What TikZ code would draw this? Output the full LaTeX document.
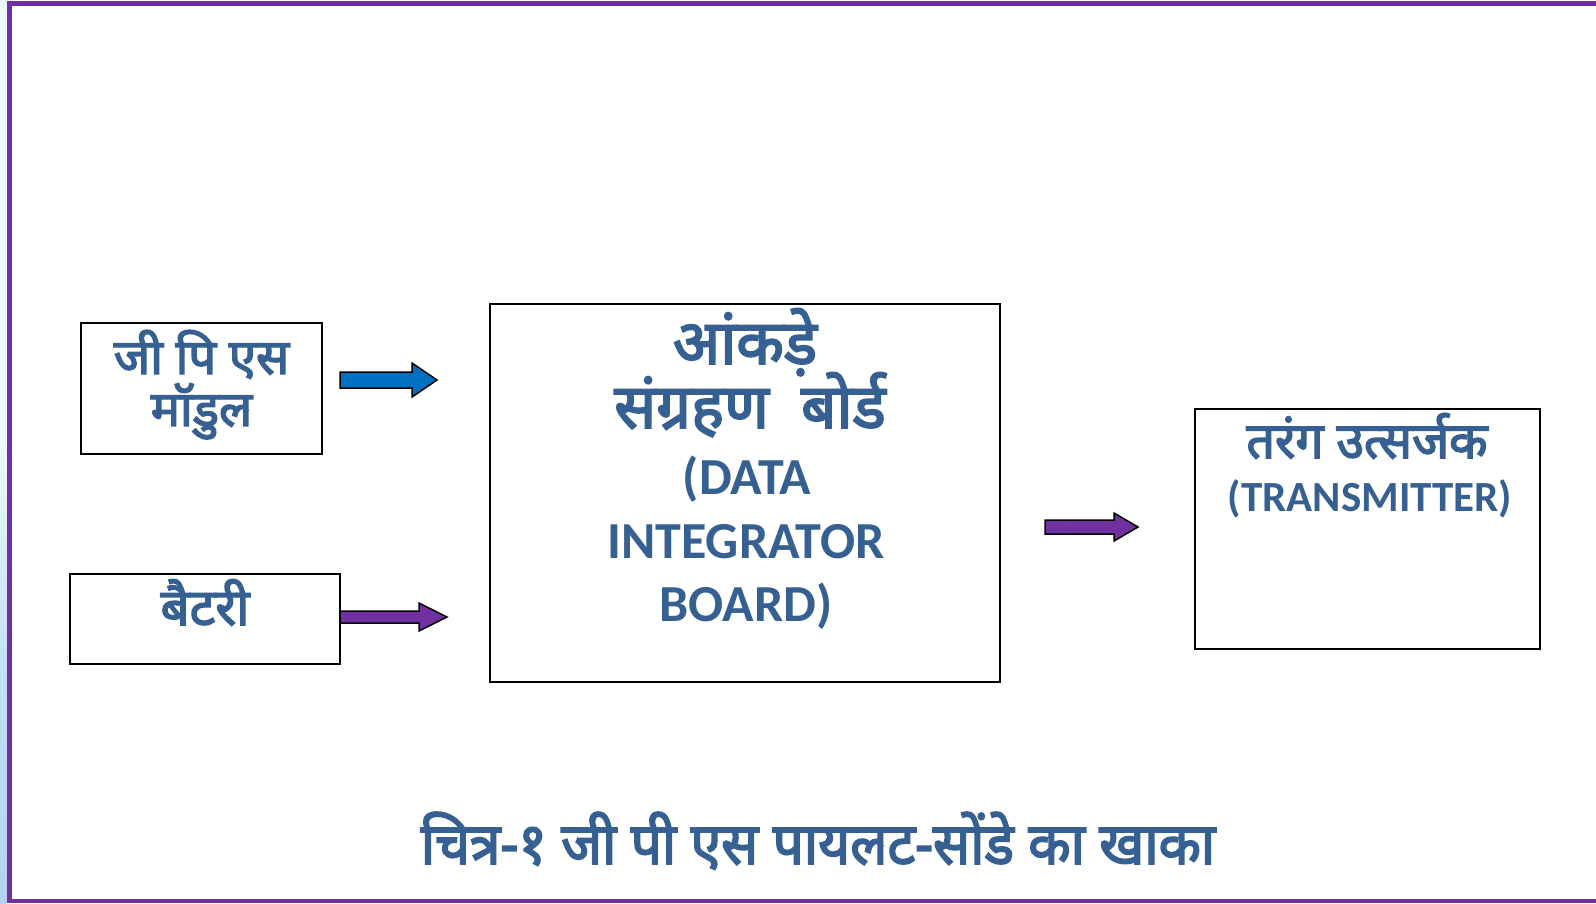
\documentclass[tikz,border=0pt]{standalone}
\usepackage{fontspec}
\setmainfont{Carlito}
\newfontfamily\deva[Script=Devanagari, AutoFakeBold=3]{Noto Sans}
\newfontfamily\latn{Carlito}
\definecolor{txt}{RGB}{55,96,146}
\definecolor{framepurple}{RGB}{112,48,160}
\definecolor{arrowblue}{RGB}{0,112,192}
\definecolor{stripLight}{RGB}{236,249,255}
\definecolor{stripMid}{RGB}{196,222,244}
\definecolor{stripDark}{RGB}{182,210,238}
\begin{document}
\begin{tikzpicture}[x=1pt,y=-1pt,
  box/.style={draw=black, line width=1.6pt, fill=white, inner sep=0pt},
  hin/.style={anchor=base, text=txt, inner sep=0pt, font=\deva\bfseries},
  eng/.style={anchor=base, text=txt, inner sep=0pt, font=\latn\bfseries},
  blockarrow/.style={draw=black, line width=1.5pt, line join=miter, fill=#1}]
\useasboundingbox (0,0) rectangle (1596,903);
% page background and left strip
\fill[white] (0,0) rectangle (1596,903);
\fill[stripLight] (0,0) rectangle (7,440);
\shade[top color=stripLight, bottom color=stripDark, middle color=stripMid] (0,440) rectangle (7,903);
% purple frame (open on the right)
\fill[framepurple] (7,1) rectangle (1596,6);
\fill[framepurple] (7,1) rectangle (12,903);
\fill[framepurple] (7,899) rectangle (1596,903);

% blocks
\node[box, minimum width=241pt, minimum height=131pt] (gps) at (201.5,388.5) {};
\node[box, minimum width=270pt, minimum height=90pt] (bat) at (205,619) {};
\node[box, minimum width=510pt, minimum height=378pt] (dib) at (745,493) {};
\node[box, minimum width=345pt, minimum height=240pt] (tx) at (1367.5,529) {};

% block labels
\node[hin, font=\deva\bfseries\fontsize{49}{60}\selectfont] (gpsA) at (201.5,374) {जी पि एस};
\node[hin, font=\deva\bfseries\fontsize{49}{60}\selectfont] (gpsB) at (201.5,426) {मॉडुल};
\node[hin, font=\deva\bfseries\fontsize{51}{60}\selectfont] (batA) at (205,625) {बैटरी};

\node[hin, font=\deva\bfseries\fontsize{62}{70}\selectfont] (dibA) at (745,364) {आंकड़े};
\node[hin, font=\deva\bfseries\fontsize{62}{70}\selectfont] (dibB) at (750,428) {संग्रहण\ \ बोर्ड};
\node[eng, font=\latn\bfseries\fontsize{52}{60}\selectfont] (dibC) at (747,494) {(DATA};
\node[eng, font=\latn\bfseries\fontsize{52}{60}\selectfont] (dibD) at (746,558) {INTEGRATOR};
\node[eng, font=\latn\bfseries\fontsize{52}{60}\selectfont] (dibE) at (746,621) {BOARD)};

\node[hin, font=\deva\bfseries\fontsize{50}{58}\selectfont] (txA) at (1367,458) {तरंग उत्सर्जक};
\node[eng, font=\latn\bfseries\fontsize{43}{50}\selectfont] (txB) at (1370,511) {(TRANSMITTER)};

% block arrows
\draw[blockarrow=arrowblue] (340,372) -- (412,372) -- (412,363) -- (437,380) -- (412,397) -- (412,388) -- (340,388) -- cycle;
\draw[blockarrow=framepurple] (340,611) -- (419,611) -- (419,603) -- (447,617) -- (419,631) -- (419,623) -- (340,623) -- cycle;
\draw[blockarrow=framepurple] (1045,520) -- (1114,520) -- (1114,513) -- (1138,527) -- (1114,541) -- (1114,534) -- (1045,534) -- cycle;

% caption
\node[hin] (cap) at (818,864) {\scalebox{0.95}[1]{\fontsize{58}{66}\selectfont चित्र-१ जी पी एस पायलट-सोंडे का खाका}};
\end{tikzpicture}
\end{document}
